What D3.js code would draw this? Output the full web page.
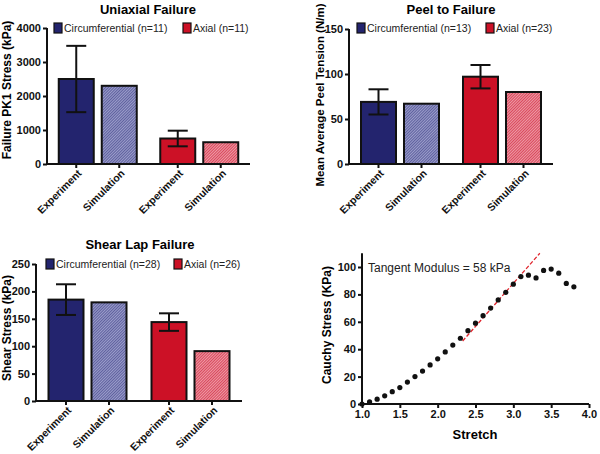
<!DOCTYPE html>
<html><head><meta charset="utf-8">
<script src="https://cdn.jsdelivr.net/npm/d3@7"></script>
<style>
body{margin:0;background:#fff;}
text{font-family:"Liberation Sans",Arial,sans-serif;}
</style></head>
<body><svg id="c" width="600" height="454"></svg>
<script>
// ---- data ----
const groups = ["Circumferential", "Axial"];
const conditions = ["Experiment", "Simulation"];

const uniTitle = "Uniaxial Failure";
const uniYLabel = "Failure PK1 Stress (kPa)";
const uniLegend = ["Circumferential (n=11)", "Axial (n=11)"];
const uniMean = [[2500, 2300], [750, 640]];
const uniErr = [975, 230];
const uniTicks = [0, 1000, 2000, 3000, 4000];

const peelTitle = "Peel to Failure";
const peelYLabel = "Mean Average Peel Tension (N/m)";
const peelLegend = ["Circumferential (n=13)", "Axial (n=23)"];
const peelMean = [[69, 67], [97, 80]];
const peelErr = [14, 13];
const peelTicks = [0, 50, 100, 150];

const shearTitle = "Shear Lap Failure";
const shearYLabel = "Shear Stress (kPa)";
const shearLegend = ["Circumferential (n=28)", "Axial (n=26)"];
const shearMean = [[185, 180], [144, 91]];
const shearErr = [28, 16];
const shearTicks = [0, 50, 100, 150, 200, 250];

const stretch = [1.0,1.1,1.2,1.3,1.4,1.5,1.6,1.7,1.8,1.9,2.0,2.1,2.2,2.3,2.4,2.5,2.6,2.7,2.8,2.9,3.0,3.1,3.2,3.3,3.4,3.5,3.6,3.7,3.8];
const cauchy = [0,1.5,3.5,6,9,12,16,20,24,28.5,33,38,43,48,53.5,59,64.5,70,76,81.5,87.5,93,94,92,97.5,98.5,95.5,88,85.5];
const tangentLine = [[2.33, 46], [3.35, 110]];
const tangentText = "Tangent Modulus = 58 kPa";
const stretchTicks = [1.0,1.5,2.0,2.5,3.0,3.5,4.0];
const cauchyTicks = [0,20,40,60,80,100];

// ---- styles ----
const svg = d3.select("#c");
const solid = {Circumferential: "#23246e", Axial: "#cc1126"};
const defs = svg.append("defs");
function hatch(id, bg, fg){
  const p = defs.append("pattern").attr("id", id).attr("patternUnits","userSpaceOnUse")
    .attr("width", 2).attr("height", 2).attr("patternTransform","rotate(45)");
  p.append("rect").attr("width",2).attr("height",2).attr("fill",bg);
  p.append("rect").attr("width",1).attr("height",2).attr("fill",fg);
}
hatch("hC", "#9c9ecb", "#5e609e");
hatch("hA", "#ee9aa5", "#d9485c");
const hatchFill = {Circumferential: "url(#hC)", Axial: "url(#hA)"};

function barPanel(o){
  const g = svg.append("g");
  const y = d3.scaleLinear().domain(o.domain).range([o.y0, o.y1]);
  const x0 = d3.scalePoint().domain(groups).range([o.x0, o.x1]).padding(0.5);
  const x1 = d3.scaleBand().domain(conditions).range([-39, 39]).paddingInner(0.186).paddingOuter(0);
  // title
  g.append("text").attr("x", o.tx).attr("y", o.ty).attr("text-anchor","middle")
    .attr("font-size", 13).attr("font-weight","bold").text(o.title);
  // y label
  g.append("text").attr("transform", `translate(${o.lx},${o.ly}) rotate(-90)`)
    .attr("text-anchor","middle").attr("dominant-baseline","middle")
    .attr("font-size", o.lfs).attr("font-weight","bold").text(o.ylabel);
  // bars
  groups.forEach((gr, gi) => {
    conditions.forEach((c, ci) => {
      const v = o.mean[gi][ci];
      g.append("rect")
        .attr("x", x0(gr) + x1(c)).attr("width", x1.bandwidth())
        .attr("y", y(v)).attr("height", y(0) - y(v))
        .attr("fill", ci === 0 ? solid[gr] : hatchFill[gr])
        .attr("stroke", "#111").attr("stroke-width", 2);
    });
    const cx = x0(gr) + x1("Experiment") + x1.bandwidth()/2;
    const m = o.mean[gi][0], e = o.err[gi];
    g.append("line").attr("x1",cx).attr("x2",cx).attr("y1",y(m-e)).attr("y2",y(m+e)).attr("stroke","#111").attr("stroke-width",2);
    [m-e, m+e].forEach(v => g.append("line").attr("x1",cx-10).attr("x2",cx+10).attr("y1",y(v)).attr("y2",y(v)).attr("stroke","#111").attr("stroke-width",2));
  });
  // y axis
  const ya = g.append("g").attr("transform", `translate(${o.x0},0)`)
    .call(d3.axisLeft(y).tickValues(o.ticks).tickSize(4).tickPadding(2).tickFormat(d3.format("d")));
  ya.select(".domain").attr("stroke","#111").attr("stroke-width",2).attr("d", `M0,${o.y0}V${o.y1}`);
  ya.selectAll(".tick line").attr("stroke","#111").attr("stroke-width",2);
  ya.selectAll(".tick text").attr("font-size",11).attr("font-weight","bold").attr("fill","#111").attr("font-family","Liberation Sans, Arial, sans-serif");
  // x axis
  g.append("line").attr("x1", o.x0).attr("x2", o.x1).attr("y1", o.y0).attr("y2", o.y0).attr("stroke","#111").attr("stroke-width",2);
  groups.forEach(gr => conditions.forEach(c => {
    const cx = x0(gr) + x1(c) + x1.bandwidth()/2;
    g.append("line").attr("x1",cx).attr("x2",cx).attr("y1",o.y0).attr("y2",o.y0+4).attr("stroke","#111").attr("stroke-width",2);
    g.append("text").attr("transform", `translate(${cx+4},${o.y0+8}) rotate(-45)`)
      .attr("text-anchor","end").attr("dominant-baseline","middle")
      .attr("font-size",10.5).attr("font-weight","bold").attr("fill","#111").text(c);
  }));
  // legend
  groups.forEach((gr, gi) => {
    const lx = o.leg[gi];
    g.append("rect").attr("x", lx).attr("y", o.legY).attr("width", 8).attr("height", 10)
      .attr("fill", solid[gr]).attr("stroke","#111").attr("stroke-width",1.2);
    g.append("text").attr("x", lx + 10).attr("y", o.legY + 9).attr("font-size", 10.5)
      .attr("fill","#222").text(o.legend[gi]);
  });
}

barPanel({title: uniTitle, ylabel: uniYLabel, legend: uniLegend, mean: uniMean, err: uniErr, ticks: uniTicks,
  domain: [0, 4000], y0: 164, y1: 28, x0: 47, x1: 250, tx: 148, ty: 14, lx: 8, ly: 90, lfs: 12, leg: [54, 183], legY: 23});
barPanel({title: peelTitle, ylabel: peelYLabel, legend: peelLegend, mean: peelMean, err: peelErr, ticks: peelTicks,
  domain: [0, 150], y0: 164, y1: 29, x0: 349, x1: 553, tx: 451, ty: 14, lx: 321, ly: 95, lfs: 11.5, leg: [357, 486], legY: 23});
barPanel({title: shearTitle, ylabel: shearYLabel, legend: shearLegend, mean: shearMean, err: shearErr, ticks: shearTicks,
  domain: [0, 250], y0: 401, y1: 264, x0: 36, x1: 242, tx: 140, ty: 249, lx: 8, ly: 328, lfs: 12, leg: [46, 174], legY: 259});

// ---- scatter panel ----
(function(){
  const g = svg.append("g");
  const x = d3.scaleLinear().domain([1, 4]).range([362, 589]);
  const y = d3.scaleLinear().domain([0, 110]).range([404, 253.3]);
  const xa = g.append("g").attr("transform","translate(0,404)")
    .call(d3.axisBottom(x).tickValues(stretchTicks).tickSize(4).tickPadding(2).tickFormat(d3.format(".1f")));
  const ya = g.append("g").attr("transform","translate(362,0)")
    .call(d3.axisLeft(y).tickValues(cauchyTicks).tickSize(4).tickPadding(2).tickFormat(d3.format("d")));
  xa.select(".domain").attr("d", `M362,0H589`);
  ya.select(".domain").attr("d", `M0,404V253.3`);
  [xa, ya].forEach(a => {
    a.select(".domain").attr("stroke","#111").attr("stroke-width",2);
    a.selectAll(".tick line").attr("stroke","#111").attr("stroke-width",2);
    a.selectAll(".tick text").attr("font-size",11).attr("font-weight","bold").attr("fill","#111").attr("font-family","Liberation Sans, Arial, sans-serif");
  });
  g.append("text").attr("x", 475).attr("y", 439).attr("text-anchor","middle")
    .attr("font-size", 13).attr("font-weight","bold").text("Stretch");
  g.append("text").attr("transform","translate(328,325) rotate(-90)").attr("text-anchor","middle")
    .attr("dominant-baseline","middle").attr("font-size",12).attr("font-weight","bold").text("Cauchy Stress (KPa)");
  g.append("path").datum(tangentLine)
    .attr("d", d3.line().x(d => x(d[0])).y(d => y(d[1])))
    .attr("stroke","#e0242c").attr("stroke-width",1.3).attr("stroke-dasharray","4,2").attr("fill","none");
  g.selectAll("circle.pt").data(stretch).join("circle").attr("class","pt")
    .attr("cx", d => x(d)).attr("cy", (d, i) => y(cauchy[i])).attr("r", 2.6).attr("fill","#111");
  g.append("text").attr("x", 368).attr("y", 272).attr("font-size", 12).attr("fill","#222").text(tangentText);
})();
</script></body></html>
